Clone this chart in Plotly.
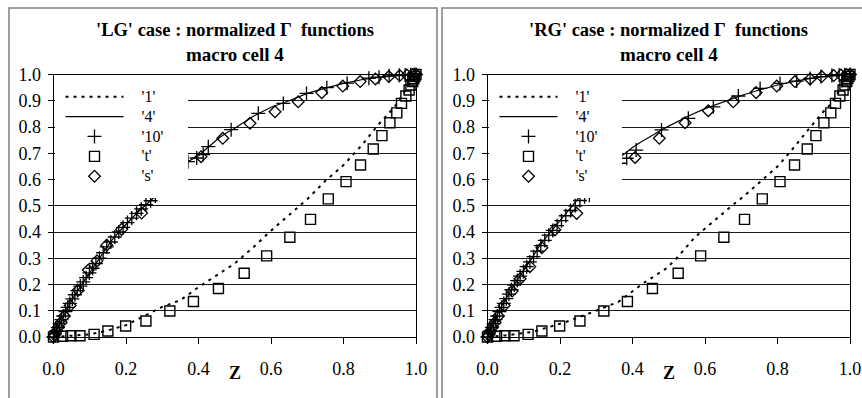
import plotly.graph_objects as go

# ---------------- data: 'LG' case (left panel) ----------------
lg_z1 = [0, 0.05, 0.10, 0.15, 0.20, 0.25, 0.30, 0.35, 0.40, 0.45, 0.50, 0.55, 0.60, 0.65,
         0.70, 0.75, 0.80, 0.85, 0.90, 0.94, 0.97, 1.00]
lg_y1 = [0, 0.004, 0.010, 0.025, 0.045, 0.080, 0.115, 0.140, 0.190, 0.235, 0.280, 0.340,
         0.405, 0.465, 0.525, 0.595, 0.655, 0.730, 0.815, 0.875, 0.940, 1.000]

lg_z4 = [0, 0.01, 0.02, 0.03, 0.04, 0.05, 0.06, 0.07, 0.08, 0.09, 0.10, 0.12, 0.14, 0.16,
         0.18, 0.20, 0.22, 0.24, 0.26, 0.28, 0.30, 0.32, 0.34, 0.36, 0.38, 0.40, 0.42, 0.44,
         0.46, 0.48, 0.50, 0.55, 0.60, 0.65, 0.70, 0.75, 0.80, 0.85, 0.90, 0.95, 0.98, 1.00]
lg_y4 = [0, 0.030, 0.060, 0.090, 0.115, 0.140, 0.163, 0.185, 0.205, 0.225, 0.245, 0.285,
         0.330, 0.367, 0.400, 0.430, 0.458, 0.485, 0.510, 0.535, 0.575, 0.605, 0.635, 0.660,
         0.675, 0.690, 0.715, 0.740, 0.762, 0.780, 0.795, 0.840, 0.875, 0.900, 0.928, 0.948,
         0.966, 0.980, 0.990, 0.996, 0.999, 1.000]

lg_z10 = [0, 0.004, 0.008, 0.012, 0.017, 0.022, 0.027, 0.033, 0.039, 0.045, 0.052, 0.059,
          0.066, 0.074, 0.082, 0.090, 0.099, 0.108, 0.117, 0.127, 0.137, 0.147, 0.158, 0.169,
          0.180, 0.192, 0.204, 0.216, 0.229, 0.242, 0.255, 0.268, 0.281, 0.310, 0.330, 0.350,
          0.371, 0.395, 0.413, 0.427, 0.490, 0.565, 0.634, 0.698, 0.754, 0.810, 0.870, 0.898,
          0.926, 0.954, 0.970, 0.985, 0.995, 1.000]
lg_y10 = [0, 0.012, 0.024, 0.036, 0.051, 0.066, 0.080, 0.097, 0.113, 0.128, 0.145, 0.161,
          0.177, 0.194, 0.210, 0.226, 0.244, 0.262, 0.280, 0.300, 0.321, 0.343, 0.362, 0.381,
          0.400, 0.418, 0.436, 0.453, 0.471, 0.488, 0.504, 0.519, 0.537, 0.590, 0.620, 0.648,
          0.668, 0.682, 0.695, 0.725, 0.790, 0.852, 0.890, 0.928, 0.950, 0.967, 0.986, 0.990,
          0.995, 0.997, 0.998, 0.999, 1.000, 1.000]

lg_zt = [0, 0.025, 0.048, 0.073, 0.112, 0.150, 0.199, 0.255, 0.321, 0.386, 0.455, 0.526,
         0.588, 0.652, 0.709, 0.758, 0.807, 0.847, 0.882, 0.906, 0.928, 0.947, 0.960, 0.972,
         0.981, 0.986, 0.991, 0.994, 0.997, 1.000]
lg_yt = [0, 0.003, 0.005, 0.005, 0.010, 0.023, 0.042, 0.061, 0.099, 0.135, 0.185, 0.243,
         0.309, 0.380, 0.448, 0.526, 0.592, 0.655, 0.716, 0.767, 0.816, 0.854, 0.890, 0.918,
         0.941, 0.960, 0.973, 0.985, 0.993, 1.000]

lg_zs = [0, 0.003, 0.008, 0.014, 0.021, 0.030, 0.046, 0.068, 0.096, 0.120, 0.147, 0.188,
         0.243, 0.320, 0.407, 0.467, 0.542, 0.611, 0.675, 0.740, 0.798, 0.846, 0.888, 0.925,
         0.955, 0.975, 0.990, 1.000]
lg_ys = [0, 0.008, 0.022, 0.038, 0.056, 0.080, 0.120, 0.178, 0.255, 0.290, 0.350, 0.410,
         0.472, 0.580, 0.687, 0.757, 0.814, 0.858, 0.896, 0.931, 0.956, 0.973, 0.983, 0.992,
         0.996, 0.998, 1.000, 1.000]

# ---------------- data: 'RG' case (right panel) ----------------
rg_z1 = [0, 0.05, 0.126, 0.218, 0.292, 0.361, 0.430, 0.494, 0.522, 0.572, 0.600, 0.628,
         0.674, 0.706, 0.752, 0.770, 0.802, 0.839, 0.862, 0.880, 0.903, 0.922, 0.945, 0.970,
         1.000]
rg_y1 = [0, 0.006, 0.020, 0.058, 0.096, 0.134, 0.205, 0.262, 0.300, 0.380, 0.413, 0.447,
         0.500, 0.535, 0.590, 0.613, 0.652, 0.712, 0.750, 0.782, 0.820, 0.852, 0.884, 0.935,
         1.000]

rg_z4 = lg_z4
rg_y4 = [0, 0.032, 0.064, 0.095, 0.120, 0.145, 0.170, 0.190, 0.212, 0.235, 0.255, 0.295,
         0.340, 0.377, 0.410, 0.440, 0.475, 0.510, 0.545, 0.575, 0.605, 0.630, 0.655, 0.680,
         0.700, 0.722, 0.740, 0.755, 0.772, 0.789, 0.803, 0.839, 0.870, 0.896, 0.920, 0.941,
         0.960, 0.975, 0.987, 0.995, 0.999, 1.000]

rg_z10 = [0, 0.004, 0.008, 0.012, 0.017, 0.022, 0.027, 0.033, 0.039, 0.045, 0.052, 0.059,
          0.066, 0.074, 0.082, 0.090, 0.099, 0.108, 0.117, 0.127, 0.137, 0.147, 0.158, 0.169,
          0.180, 0.192, 0.204, 0.216, 0.229, 0.242, 0.255, 0.268, 0.281, 0.310, 0.330, 0.366,
          0.384, 0.410, 0.480, 0.554, 0.623, 0.692, 0.752, 0.807, 0.853, 0.890, 0.920, 0.950,
          0.970, 0.985, 1.000]
rg_y10 = [0, 0.012, 0.024, 0.036, 0.051, 0.066, 0.080, 0.097, 0.113, 0.128, 0.146, 0.163,
          0.180, 0.198, 0.215, 0.232, 0.250, 0.268, 0.286, 0.306, 0.327, 0.348, 0.368, 0.388,
          0.406, 0.424, 0.443, 0.462, 0.482, 0.500, 0.520, 0.534, 0.540, 0.600, 0.630, 0.662,
          0.681, 0.712, 0.789, 0.833, 0.877, 0.918, 0.947, 0.966, 0.975, 0.985, 0.992, 0.996,
          0.998, 0.999, 1.000]

rg_zt = lg_zt
rg_yt = lg_yt

rg_zs = [0, 0.003, 0.008, 0.014, 0.021, 0.030, 0.046, 0.068, 0.090, 0.117, 0.150, 0.186,
         0.246, 0.320, 0.407, 0.474, 0.545, 0.609, 0.678, 0.741, 0.798, 0.848, 0.890, 0.922,
         0.955, 0.975, 0.990, 1.000]
rg_ys = [0, 0.008, 0.022, 0.038, 0.056, 0.080, 0.120, 0.175, 0.222, 0.268, 0.340, 0.408,
         0.471, 0.580, 0.684, 0.757, 0.816, 0.862, 0.896, 0.931, 0.956, 0.973, 0.983, 0.992,
         0.996, 0.998, 1.000, 1.000]

titles = ["'LG' case : normalized \u0393\u00a0 functions", "'RG' case : normalized \u0393\u00a0 functions"]
subtitle = "macro cell 4"
series_names = ["'1'", "'4'", "'10'", "'t'", "'s'"]

SERIF = "Liberation Serif, Times New Roman, serif"
W, H = 862, 398

fig = go.Figure()

NB = "\u00a0"
pad_names = [NB * 4 + '<span style="font-size:16px;fill:#000000">' + n + '</span>' + NB * 4
             for n in series_names]


def add_panel(xa, ya, leg, z1, y1, z4, y4, z10, y10, zt, yt, zs, ys):
    common = dict(xaxis=xa, yaxis=ya, legend=leg, cliponaxis=False)
    fig.add_trace(go.Scatter(x=z1, y=y1, mode="lines", name=pad_names[0],
                             line=dict(color="black", width=2, dash="3px,5px"), **common))
    fig.add_trace(go.Scatter(x=z4, y=y4, mode="lines", name=pad_names[1],
                             line=dict(color="black", width=1.2), **common))
    fig.add_trace(go.Scatter(x=z10, y=y10, mode="markers", name=pad_names[2],
                             marker=dict(symbol="cross-thin", size=10,
                                         line=dict(color="black", width=1.3)), **common))
    fig.add_trace(go.Scatter(x=zt, y=yt, mode="markers", name=pad_names[3],
                             marker=dict(symbol="square-open", size=10, color="black",
                                         line=dict(color="black", width=1.4)), **common))
    fig.add_trace(go.Scatter(x=zs, y=ys, mode="markers", name=pad_names[4],
                             marker=dict(symbol="diamond-open", size=9, color="black",
                                         line=dict(color="black", width=1.3)), **common))


add_panel("x", "y", "legend", lg_z1, lg_y1, lg_z4, lg_y4, lg_z10, lg_y10, lg_zt, lg_yt, lg_zs, lg_ys)
add_panel("x2", "y2", "legend2", rg_z1, rg_y1, rg_z4, rg_y4, rg_z10, rg_y10, rg_zt, rg_yt, rg_zs, rg_ys)

ydom = [1 - 337 / H, 1 - 74.5 / H]
xdoms = [[53.5 / W, 416 / W], [487.5 / W, 850 / W]]

xax = dict(range=[0, 1], dtick=0.2, tick0=0, tickformat=".1f", showgrid=False, zeroline=False,
           showline=True, linecolor="black", linewidth=1, mirror=True, automargin=False,
           ticks="outside", ticklen=6, tickcolor="black",
           tickfont=dict(family=SERIF, size=18, color="black"), ticklabelstandoff=9)
yax = dict(range=[0, 1], dtick=0.1, tick0=0, tickformat=".1f", showgrid=True,
           gridcolor="#1a1a1a", gridwidth=1, zeroline=False, automargin=False,
           showline=True, linecolor="black", linewidth=1, mirror=True,
           ticks="outside", ticklen=5, tickcolor="black",
           tickfont=dict(family=SERIF, size=18, color="black"), ticklabelstandoff=3)

leg = dict(bgcolor="white", bordercolor="white", borderwidth=6, xanchor="left", yanchor="top",
           font=dict(family=SERIF, size=13, color="#000000"), itemwidth=58,
           tracegroupgap=0)

fig.update_layout(
    width=W, height=H, margin=dict(l=0, r=0, t=0, b=0, autoexpand=False),
    paper_bgcolor="white", plot_bgcolor="white",
    xaxis=dict(xax, domain=xdoms[0], anchor="y"),
    yaxis=dict(yax, domain=ydom, anchor="x"),
    xaxis2=dict(xax, domain=xdoms[1], anchor="y2"),
    yaxis2=dict(yax, domain=ydom, anchor="x2"),
    legend=dict(leg, x=54.5 / W, y=1 - 75.7 / H),
    legend2=dict(leg, x=488.5 / W, y=1 - 75.7 / H),
    showlegend=True,
)

annots = []
for i, xr in enumerate(["x domain", "x2 domain"]):
    annots.append(dict(text="<b>" + titles[i] + "</b>", xref=xr, x=0.5, yref="paper", y=1 - 30 / H,
                       xanchor="center", yanchor="middle", showarrow=False,
                       font=dict(family=SERIF, size=18.5, color="black")))
    annots.append(dict(text="<b>" + subtitle + "</b>", xref=xr, x=0.5, yref="paper", y=1 - 55 / H,
                       xanchor="center", yanchor="middle", showarrow=False,
                       font=dict(family=SERIF, size=19, color="black")))
    annots.append(dict(text="<b>Z</b>", xref=xr, x=0.5, yref="paper", y=1 - 373 / H,
                       xanchor="center", yanchor="middle", showarrow=False,
                       font=dict(family=SERIF, size=18, color="black")))
fig.update_layout(annotations=annots)

fig.add_shape(type="rect", xref="paper", yref="paper", x0=9 / W, x1=437 / W, y0=-0.05, y1=1 - 8 / H,
              line=dict(color="#808080", width=1.5), layer="below")
fig.add_shape(type="rect", xref="paper", yref="paper", x0=442 / W, x1=1.02, y0=-0.05, y1=1 - 8 / H,
              line=dict(color="#808080", width=1.5), layer="below")

fig.write_html("out.html")
